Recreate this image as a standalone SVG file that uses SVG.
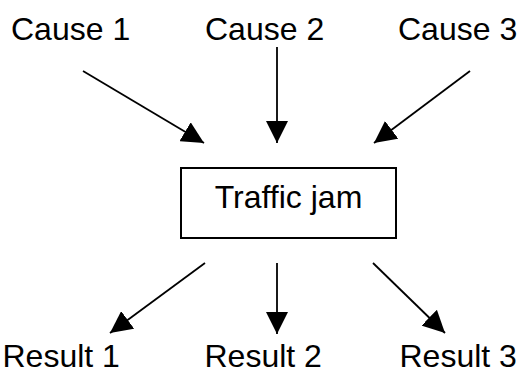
<svg xmlns="http://www.w3.org/2000/svg" width="517" height="374" viewBox="0 0 517 374">
<defs>
<style>
.lbl{font-family:"Liberation Sans",Arial,sans-serif;font-size:32px;fill:#000}
.box{fill:#fff;stroke:#000;stroke-width:2}
.conn{stroke:#000;stroke-width:1.8;fill:none;marker-end:url(#arrow)}
</style>
<marker id="arrow" markerUnits="userSpaceOnUse" markerWidth="22" markerHeight="22" refX="20" refY="10" orient="auto" viewBox="0 0 20 20">
<path d="M0,0 L20,10 L0,20 Z" fill="#000"/>
</marker>
</defs>
<rect width="517" height="374" fill="#fff"/>
<g id="cause1"><text class="lbl" x="11" y="40">Cause 1</text></g>
<g id="cause2"><text class="lbl" x="205" y="40">Cause 2</text></g>
<g id="cause3"><text class="lbl" x="398" y="40">Cause 3</text></g>
<g id="traffic-jam">
<rect class="box" x="181" y="168" width="215" height="70"/>
<text class="lbl" x="288.5" y="208" text-anchor="middle">Traffic jam</text>
</g>
<g id="result1"><text class="lbl" x="2.5" y="367">Result 1</text></g>
<g id="result2"><text class="lbl" x="204.5" y="367">Result 2</text></g>
<g id="result3"><text class="lbl" x="399.5" y="367">Result 3</text></g>
<g id="connectors">
<line class="conn" x1="83" y1="71" x2="204" y2="143"/>
<line class="conn" x1="277" y1="47" x2="277" y2="143"/>
<line class="conn" x1="470" y1="71" x2="374" y2="143"/>
<line class="conn" x1="205" y1="263" x2="110" y2="333"/>
<line class="conn" x1="277" y1="263" x2="277" y2="334"/>
<line class="conn" x1="373" y1="263" x2="445" y2="333"/>
</g>
</svg>
